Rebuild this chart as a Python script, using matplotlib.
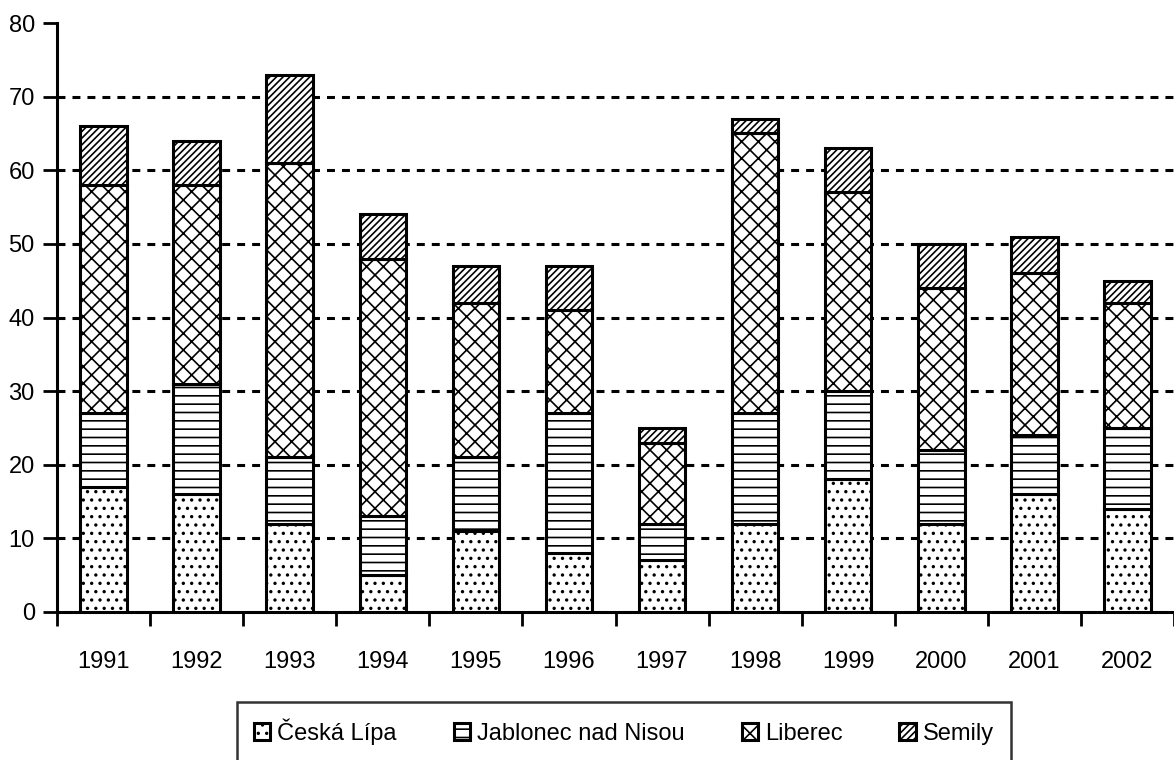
import matplotlib
matplotlib.use("Agg")
import matplotlib.pyplot as plt
import numpy as np

plt.rcParams['font.family'] = ['Liberation Sans', 'DejaVu Sans']
plt.rcParams['hatch.linewidth'] = 1.2

# data
years = ["1991", "1992", "1993", "1994", "1995", "1996",
         "1997", "1998", "1999", "2000", "2001", "2002"]
ceska_lipa = [17, 16, 12, 5, 11, 8, 7, 12, 18, 12, 16, 14]
jablonec = [10, 15, 9, 8, 10, 19, 5, 15, 12, 10, 8, 11]
liberec = [31, 27, 40, 35, 21, 14, 11, 38, 27, 22, 22, 17]
semily = [8, 6, 12, 6, 5, 6, 2, 2, 6, 6, 5, 3]

series = [("Česká Lípa", ceska_lipa, ".."),
          ("Jablonec nad Nisou", jablonec, "--"),
          ("Liberec", liberec, "xx"),
          ("Semily", semily, "/////")]

fig = plt.figure(figsize=(11.74, 7.60), dpi=100)
ax = fig.add_axes([57 / 1174, 1 - 612 / 760, 1 - 57 / 1174, (612 - 23) / 760])

x = np.arange(len(years))
bottom = np.zeros(len(years))
for name, vals, hatch in series:
    ax.bar(x, vals, 0.5, bottom=bottom, color="white", edgecolor="black",
           linewidth=2.2, hatch=hatch, label=name, zorder=3)
    bottom += np.array(vals)

ax.set_xlim(-0.5, len(years) - 0.5)
ax.set_ylim(0, 80)
yt = np.arange(0, 81, 10)
ax.set_yticks(yt)
ax.hlines(yt[1:-1], -0.5, len(years) - 0.5, colors="black", linewidth=2.2,
          linestyles=(0, (2.6, 2.3)), zorder=1)

ax.set_xticks(x)
ax.set_xticklabels(years)
ax.set_xticks(np.arange(-0.5, len(years), 1), minor=True)
ax.tick_params(axis="x", which="major", length=0, pad=28, labelsize=17)
ax.tick_params(axis="x", which="minor", length=10, width=2, direction="out")
ax.tick_params(axis="y", length=10, width=2, pad=6, labelsize=17)

for s in ["top", "right"]:
    ax.spines[s].set_visible(False)
for s in ["left", "bottom"]:
    ax.spines[s].set_linewidth(2.2)

leg = fig.legend(loc="upper center", bbox_to_anchor=(624 / 1174, 1 - 702 / 760),
                 borderaxespad=0, ncol=4, fontsize=17, frameon=True, fancybox=False,
                 edgecolor="black", handlelength=0.7, handleheight=0.7,
                 handletextpad=0.3, columnspacing=2.4, borderpad=0.7)
leg.get_frame().set_linewidth(1.8)

fig.savefig("out.png", dpi=100)
